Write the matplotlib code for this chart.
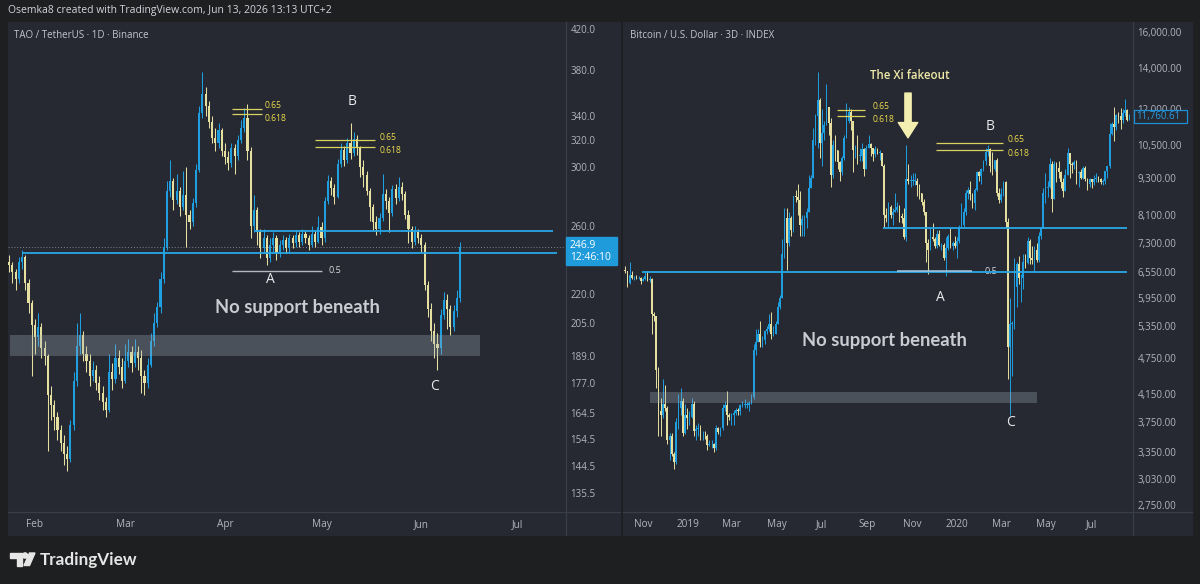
import matplotlib
matplotlib.use('Agg')
import matplotlib.pyplot as plt
import matplotlib.dates as mdates
from matplotlib.patches import Rectangle, Polygon, Circle
from matplotlib.ticker import FixedLocator, NullLocator
import numpy as np
import pandas as pd

plt.rcParams['font.family'] = ['Open Sans', 'DejaVu Sans']

# ---------------- data : TAO / TetherUS 1D ----------------
tao_start = '2026-01-24'
tao_first_open = 238
tao_close = [236, 232, 228, 238, 241, 226, 215, 204, 198, 203,
             193, 189, 172, 168, 163, 158, 153, 149, 147, 160,
             178, 194, 199, 190, 187, 180, 183, 177, 173, 169,
             166, 182, 179, 188, 184, 178, 187, 191, 186, 191,
             188, 180, 177, 185, 196, 205, 213, 228, 247, 283,
             290, 277, 283, 272, 280, 267, 262, 275, 298, 342,
             358, 348, 335, 322, 318, 328, 312, 307, 303, 314,
             308, 320, 330, 338, 312, 260, 270, 256, 246, 252,
             240, 248, 252, 243, 248, 251, 246, 252, 249, 254,
             250, 255, 252, 248, 255, 250, 259, 252, 276, 290,
             285, 279, 302, 313, 305, 318, 310, 321, 314, 300,
             294, 283, 272, 262, 258, 265, 281, 276, 268, 284,
             278, 286, 281, 267, 258, 250, 256, 252, 248, 225,
             212, 201, 195, 193, 209, 217, 212, 203, 211, 218,
             246.9]
tao_high = [242, 238, 234, 241, 245, 242, 228, 217, 207, 210,
            205, 196, 190, 176, 170, 165, 160, 156, 152, 162,
            182, 205, 210, 201, 194, 190, 187, 185, 180, 176,
            171, 190, 186, 195, 192, 188, 195, 197, 194, 197,
            194, 192, 183, 188, 200, 210, 216, 232, 252, 290,
            305, 292, 295, 286, 297, 300, 270, 278, 302, 348,
            378, 365, 352, 340, 330, 334, 330, 318, 312, 318,
            317, 324, 336, 346, 350, 315, 280, 272, 258, 258,
            254, 252, 256, 254, 251, 254, 253, 255, 254, 257,
            256, 258, 257, 254, 260, 257, 266, 262, 279, 294,
            293, 288, 306, 318, 316, 322, 334, 327, 324, 316,
            305, 297, 285, 274, 266, 268, 295, 284, 279, 287,
            288, 293, 289, 283, 270, 260, 260, 258, 255, 250,
            227, 215, 205, 200, 212, 221, 220, 214, 214, 222,
            250]
tao_low = [232, 226, 222, 226, 234, 222, 210, 180, 190, 194,
           188, 185, 150, 162, 158, 154, 150, 145, 143, 146,
           158, 176, 190, 187, 182, 176, 178, 174, 170, 166,
           163, 165, 174, 177, 181, 175, 177, 184, 182, 184,
           183, 173, 172, 175, 184, 194, 203, 210, 226, 245,
           279, 270, 274, 266, 270, 247, 258, 260, 272, 296,
           338, 340, 330, 318, 312, 314, 308, 302, 298, 300,
           295, 305, 318, 327, 305, 252, 256, 248, 240, 243,
           236, 238, 244, 239, 241, 245, 243, 244, 246, 247,
           247, 248, 249, 245, 247, 247, 249, 248, 250, 274,
           280, 274, 278, 300, 301, 303, 306, 308, 309, 293,
           286, 280, 263, 257, 254, 255, 263, 271, 256, 266,
           274, 276, 277, 264, 249, 246, 248, 249, 244, 222,
           208, 196, 188, 183, 190, 207, 202, 199, 201, 208,
           216]
tao_yticks = [420, 380, 340, 320, 300, 260, 220, 205, 189, 177, 164.5, 154.5, 144.5, 135.5]
tao_month_ticks = ['2026-02-01', '2026-03-01', '2026-04-01', '2026-05-01', '2026-06-01', '2026-07-01']
tao_month_labels = ['Feb', 'Mar', 'Apr', 'May', 'Jun', 'Jul']
tao_support = 243.0
tao_resistance = 256.5
tao_half = 233.0
tao_fib_a = [345.5, 341.0]
tao_fib_b = [320.0, 315.0]
tao_zone = [189.0, 199.0]

# ---------------- data : Bitcoin / U.S. Dollar 3D ----------------
btc_start = '2018-10-08'
btc_first_open = 6600
btc_close = [6560, 6280, 6480, 6400, 6410, 6400, 6410, 6330, 6390, 6450,
             6350, 6370, 5600, 5550, 4550, 3900, 3850, 4000, 3950, 3500,
             3550, 3330, 3230, 3750, 3950, 4050, 3600, 3840, 3800, 3820,
             4000, 3620, 3650, 3650, 3550, 3560, 3550, 3440, 3450, 3450,
             3400, 3660, 3610, 3660, 3950, 3990, 3850, 3820, 3850, 3870,
             3920, 3900, 3990, 3990, 3990, 3990, 4020, 4110, 4900, 5050,
             5200, 5050, 5080, 5250, 5300, 5400, 5200, 5200, 5400, 5750,
             5950, 7000, 8000, 7300, 8000, 7650, 8700, 8650, 8550, 7800,
             7980, 8000, 8200, 8950, 9300, 10700, 11700, 12400, 10600, 11000,
             11300, 12100, 11400, 9400, 10500, 10300, 9850, 9500, 10000, 10800,
             11500, 11900, 11500, 10300, 10300, 10100, 10100, 10350, 9600, 10400,
             10550, 10400, 10150, 10350, 10200, 10200, 9700, 8100, 8000, 8350,
             8100, 8200, 8250, 8350, 8050, 8000, 7450, 9250, 9200, 9200,
             9200, 9200, 9050, 8800, 8500, 8200, 7300, 7100, 7450, 7400,
             7200, 7550, 7250, 7250, 6900, 7150, 7500, 7200, 7300, 7200,
             7350, 7750, 7800, 8200, 8800, 8900, 8750, 8450, 8900, 9500,
             9350, 9600, 9900, 10250, 10350, 9700, 9600, 9950, 8800, 8550,
             8750, 9150, 7900, 4950, 5400, 5400, 6200, 6750, 6400, 6400,
             6800, 6780, 7350, 6900, 6850, 7100, 6850, 7500, 7700, 8800,
             8950, 9000, 9800, 8600, 9800, 9650, 9500, 9150, 8850, 9400,
             10200, 9800, 9750, 9850, 9450, 9500, 9300, 9650, 9250, 9100,
             9250, 9150, 9250, 9300, 9250, 9150, 9200, 9550, 9700, 10950,
             11350, 11250, 11750, 11700, 11550, 11850, 11950, 11550, 11760.61]
btc_high = [6700, 6570, 6800, 6560, 6460, 6470, 6450, 6420, 6430, 6540,
            6560, 6440, 6400, 5650, 5550, 4600, 4100, 4400, 4300, 3980,
            3600, 3600, 3350, 3800, 4150, 4250, 4100, 4000, 3950, 3900,
            4100, 4050, 3700, 3730, 3700, 3620, 3620, 3580, 3500, 3500,
            3460, 3700, 3680, 3680, 4000, 4050, 4200, 3870, 3880, 3910,
            3950, 3940, 4000, 4050, 4080, 4030, 4050, 4150, 5000, 5300,
            5300, 5450, 5150, 5280, 5350, 5600, 5650, 5350, 5450, 5850,
            6000, 7400, 8300, 8300, 8200, 8050, 8700, 8900, 9100, 8850,
            8100, 8100, 8300, 9400, 9400, 11200, 11800, 13800, 12500, 12000,
            11500, 13200, 12100, 11600, 10700, 10900, 10300, 9900, 10100, 10900,
            12300, 12100, 12000, 11500, 10500, 10900, 10400, 10600, 10400, 10500,
            10900, 10600, 10400, 10450, 10400, 10300, 10200, 9800, 8300, 8500,
            8400, 8300, 8800, 8500, 8400, 8150, 8300, 10500, 9800, 9400,
            9450, 9450, 9300, 9100, 8800, 8600, 8200, 7400, 7700, 7850,
            7450, 7650, 7650, 7300, 7300, 7450, 7550, 7700, 7350, 7500,
            7450, 7800, 8450, 8300, 8900, 9000, 9200, 8800, 8950, 9550,
            9550, 9650, 9950, 10400, 10500, 10400, 10250, 9950, 10000, 8950,
            8950, 9200, 9200, 8000, 5950, 5450, 6900, 6800, 6950, 6500,
            7000, 7000, 7450, 7400, 7200, 7200, 7300, 7600, 7750, 8950,
            9450, 9200, 10000, 9900, 9900, 9850, 9900, 9550, 9300, 9600,
            10400, 10200, 9850, 9950, 9950, 9550, 9600, 9700, 9700, 9300,
            9300, 9250, 9400, 9450, 9350, 9300, 9250, 9550, 9700, 11400,
            11450, 12100, 11800, 11900, 12050, 12000, 12450, 12000, 11800]
btc_low = [6520, 6200, 6250, 6380, 6360, 6370, 6380, 6260, 6320, 6350,
           6330, 6300, 5200, 5450, 4250, 3550, 3550, 3800, 3900, 3450,
           3250, 3300, 3150, 3200, 3650, 3850, 3550, 3580, 3650, 3700,
           3800, 3550, 3500, 3550, 3500, 3500, 3520, 3380, 3420, 3400,
           3350, 3380, 3580, 3560, 3640, 3900, 3700, 3780, 3700, 3700,
           3850, 3850, 3850, 3960, 3950, 3950, 3900, 4000, 4080, 4800,
           5050, 4950, 4950, 5000, 5200, 5250, 5100, 5150, 5200, 5400,
           5700, 5950, 6900, 6600, 7200, 7500, 7600, 8500, 8100, 7500,
           7500, 7500, 7700, 8200, 8950, 9300, 10500, 10400, 10000, 9700,
           10700, 11300, 10900, 9000, 9300, 9900, 9600, 9200, 9400, 9950,
           10800, 11400, 11100, 9500, 10000, 9800, 9900, 9900, 9350, 9600,
           10400, 10100, 9900, 10050, 10150, 9950, 9700, 7700, 7900, 7700,
           8000, 7800, 8200, 8200, 7900, 7850, 7400, 7350, 9100, 9000,
           9050, 9050, 8700, 8600, 8400, 8100, 6800, 6500, 7100, 7350,
           7150, 7150, 7200, 7100, 6850, 6450, 7100, 7150, 7100, 7150,
           6900, 7300, 7700, 7700, 8100, 8600, 8550, 8300, 8250, 8850,
           9200, 9100, 9550, 9750, 10100, 9500, 9400, 9550, 8700, 8450,
           8500, 8700, 7700, 4400, 3850, 4450, 5300, 5750, 6250, 5850,
           6150, 6650, 6750, 6750, 6750, 6550, 6800, 6800, 7400, 7700,
           8450, 8650, 8950, 8200, 8600, 9150, 9300, 8950, 8650, 8850,
           9400, 9300, 9450, 9600, 9100, 9000, 9250, 9250, 9200, 8900,
           9000, 8950, 9050, 9150, 9150, 9100, 9050, 9100, 9300, 9650,
           10900, 10650, 11100, 11400, 11150, 11400, 11700, 11500, 11550]
btc_yticks = [16000, 14000, 12000, 10500, 9300, 8100, 7300, 6550, 5950, 5350,
              4750, 4150, 3750, 3350, 3030, 2750]
btc_month_ticks = ['2018-11-01', '2019-01-01', '2019-03-01', '2019-05-01', '2019-07-01',
                   '2019-09-01', '2019-11-01', '2020-01-01', '2020-03-01', '2020-05-01',
                   '2020-07-01']
btc_month_labels = ['Nov', '2019', 'Mar', 'May', 'Jul', 'Sep', 'Nov', '2020', 'Mar', 'May', 'Jul']
btc_support = 6550.0
btc_resistance = 7700.0
btc_half = 6560.0
btc_fib_a = [11980.0, 11700.0]
btc_fib_b = [10584.0, 10312.0]
btc_zone = [4020.0, 4190.0]

# ---------------- style ----------------
W, H = 1200, 584
FIG_BG = '#1e1f21'
PANEL_BG = '#262932'
SEP = '#3a3e48'
TEXT = '#b2b5be'
UP = '#1f9ee0'
DOWN = '#e6e0a0'
LBLUE = '#29a8e6'
FIB = '#d9d160'
FIB_TXT = '#eedb4c'
ZONE = '#a0b0b8'

fig = plt.figure(figsize=(W / 100, H / 100), dpi=100, facecolor=FIG_BG)


def frect(x0, y0, x1, y1):
    return [x0 / W, 1 - y1 / H, (x1 - x0) / W, (y1 - y0) / H]


def dnum(s):
    return mdates.date2num(pd.Timestamp(s))


# background / chrome layer
bg = fig.add_axes([0, 0, 1, 1], zorder=0)
bg.set_xlim(0, W)
bg.set_ylim(H, 0)
bg.axis('off')
bg.add_patch(Rectangle((8, 22), 612, 513, color=PANEL_BG))
bg.add_patch(Rectangle((623, 22), 569, 513, color=PANEL_BG))
bg.plot([565.5, 565.5], [22, 535], color=SEP, lw=0.9)
bg.plot([8, 620], [511.5, 511.5], color=SEP, lw=0.9)
bg.plot([1132.5, 1132.5], [22, 535], color=SEP, lw=0.9)
bg.plot([623, 1192], [511.5, 511.5], color=SEP, lw=0.9)
bg.text(8, 10, 'Osemka8 created with TradingView.com, Jun 13, 2026 13:13 UTC+2',
        color='#d1d4dc', fontsize=7.5, va='center', ha='left')
bg.text(14, 35, 'TAO / TetherUS · 1D · Binance', color='#c3c6cd', fontsize=7.0,
        va='center', ha='left')
bg.text(630, 35, 'Bitcoin / U.S. Dollar · 3D · INDEX', color='#c3c6cd', fontsize=7.0,
        va='center', ha='left')
# TradingView logo
LOGO = '#e6e6e6'
bg.add_patch(Polygon([(10, 553), (21.5, 553), (21.5, 565.5), (16.5, 565.5), (16.5, 558), (10, 558)],
                     closed=True, color=LOGO))
bg.add_patch(Circle((25, 555.5), 2.6, color=LOGO))
bg.add_patch(Polygon([(29.5, 553), (35, 553), (29.5, 565.5), (24, 565.5)], closed=True, color=LOGO))
bg.text(40, 559.5, 'TradingView', color=LOGO, fontsize=12.3, fontweight='bold',
        family=['Lato', 'DejaVu Sans'], va='center', ha='left')


def draw_candles(ax, dates, first_open, closes, highs, lows, width, lw):
    x = mdates.date2num(dates)
    c = np.asarray(closes, dtype=float)
    o = np.concatenate([[first_open], c[:-1]])
    colors = np.where(c >= o, UP, DOWN)
    ax.vlines(x, lows, highs, colors=colors, lw=lw, zorder=3)
    bottom = np.minimum(o, c)
    top = np.maximum(o, c)
    height = np.maximum(top - bottom, bottom * 0.002)
    ax.bar(x, height, bottom=bottom, width=width, color=colors, linewidth=0, zorder=4)


def style_axes(ax, yticks, yfmt, xticks, xlabels):
    ax.set_facecolor('none')
    for s in ax.spines.values():
        s.set_visible(False)
    ax.yaxis.set_major_locator(FixedLocator(yticks))
    ax.yaxis.set_minor_locator(NullLocator())
    ax.set_yticklabels([yfmt(v) for v in yticks])
    ax.yaxis.tick_right()
    ax.tick_params(axis='y', which='both', length=0, pad=3.8, labelsize=7, labelcolor=TEXT)
    ax.set_xticks([dnum(t) for t in xticks])
    ax.set_xticklabels(xlabels)
    ax.tick_params(axis='x', length=0, pad=5.5, labelsize=7.2, labelcolor=TEXT)
    ax.grid(False)


def fib_labels(ax, x, levels):
    # two fib labels drawn just above / below their lines
    ax.annotate('0.65', (x, levels[0]), xytext=(0, 2.2), textcoords='offset points',
                color=FIB_TXT, fontsize=6.2, va='center', ha='left')
    ax.annotate('0.618', (x, levels[1]), xytext=(0, -2.6), textcoords='offset points',
                color=FIB_TXT, fontsize=6.2, va='center', ha='left')


# ---------------- left chart : TAO ----------------
ax1 = fig.add_axes(frect(8, 22, 565, 511), zorder=2)
ax1.set_yscale('log')
ax1.set_ylim(129.6, 427.2)
t0 = dnum(tao_start)
ax1.set_xlim(t0 - 0.37, t0 + 172.6)
tao_dates = pd.date_range(tao_start, periods=len(tao_close), freq='D')
draw_candles(ax1, tao_dates, tao_first_open, tao_close, tao_high, tao_low, 0.66, 0.75)
style_axes(ax1, tao_yticks, lambda v: f'{v:.1f}', tao_month_ticks, tao_month_labels)

ax1.fill_between([t0 + 0.25, t0 + 146.2], tao_zone[0], tao_zone[1], color=ZONE, alpha=0.3,
                 linewidth=0, zorder=5)
ax1.axhline(tao_close[-1], color='#7d828c', lw=0.7, ls=(0, (1, 2)), zorder=2)
ax1.hlines(tao_support, t0 + 4.0, t0 + 170.1, color=LBLUE, lw=1.3, zorder=6)
ax1.hlines(tao_resistance, t0 + 76.3, t0 + 168.9, color=LBLUE, lw=1.3, zorder=6)
ax1.hlines(tao_half, t0 + 69.2, t0 + 97.1, color='#b4b7bd', lw=1.0, zorder=6)
ax1.text(t0 + 99.3, tao_half, '0.5', color='#d8dade', fontsize=6.5, va='center', ha='left')
for lv in tao_fib_a:
    ax1.hlines(lv, t0 + 69.2, t0 + 78.5, color=FIB, lw=0.9, zorder=6)
for lv in tao_fib_b:
    ax1.hlines(lv, t0 + 95.0, t0 + 113.6, color=FIB, lw=0.9, zorder=6)
fib_labels(ax1, t0 + 79.4, tao_fib_a)
fib_labels(ax1, t0 + 115.0, tao_fib_b)
ax1.text(t0 + 81.0, 227.7, 'A', color='#e8e9ec', fontsize=10, ha='center', va='center')
ax1.text(t0 + 106.5, 352.0, 'B', color='#e8e9ec', fontsize=10, ha='center', va='center')
ax1.text(t0 + 132.2, 175.4, 'C', color='#e8e9ec', fontsize=10, ha='center', va='center')
ax1.text(t0 + 89.4, 213.0, 'No support beneath', color='#c9ccd1', fontsize=13.2,
         fontweight='bold', family=['Lato', 'DejaVu Sans'], ha='center', va='center', zorder=7)

# ---------------- right chart : BTC ----------------
ax2 = fig.add_axes(frect(623, 22, 1132, 511), zorder=2)
ax2.set_yscale('log')
ax2.set_ylim(2689, 16607)
b0 = dnum('2018-11-01')
ax2.set_xlim(b0 - 27.1, b0 + 663.5)
btc_dates = pd.date_range(btc_start, periods=len(btc_close), freq='3D')
draw_candles(ax2, btc_dates, btc_first_open, btc_close, btc_high, btc_low, 2.2, 0.7)
style_axes(ax2, btc_yticks, lambda v: f'{v:,.2f}', btc_month_ticks, btc_month_labels)

ax2.fill_between([b0 + 9.5, b0 + 534.6], btc_zone[0], btc_zone[1], color=ZONE, alpha=0.3,
                 linewidth=0, zorder=5)
ax2.hlines(btc_support, b0 - 1.4, b0 + 656.7, color=LBLUE, lw=1.3, zorder=6)
ax2.hlines(btc_resistance, b0 + 325.6, b0 + 656.7, color=LBLUE, lw=1.3, zorder=6)
ax2.hlines(btc_half, b0 + 344.6, b0 + 446.4, color='#a9c9e0', lw=1.1, zorder=7)
ax2.text(b0 + 464.0, btc_half, '0.5', color='#d8dade', fontsize=6.5, va='center', ha='left')
for lv in btc_fib_a:
    ax2.hlines(lv, b0 + 263.0, b0 + 301.0, color=FIB, lw=0.9, zorder=6)
for lv in btc_fib_b:
    ax2.hlines(lv, b0 + 397.6, b0 + 488.5, color=FIB, lw=0.9, zorder=6)
fib_labels(ax2, b0 + 312.0, btc_fib_a)
fib_labels(ax2, b0 + 495.0, btc_fib_b)
ax2.text(b0 + 403.0, 5965, 'A', color='#e8e9ec', fontsize=10, ha='center', va='center')
ax2.text(b0 + 470.8, 11275, 'B', color='#e8e9ec', fontsize=10, ha='center', va='center')
ax2.text(b0 + 498.0, 3745, 'C', color='#e8e9ec', fontsize=10, ha='center', va='center')
ax2.text(b0 + 327.0, 5064, 'No support beneath', color='#c9ccd1', fontsize=13.2,
         fontweight='bold', family=['Lato', 'DejaVu Sans'], ha='center', va='center', zorder=7)
ax2.text(b0 + 362.0, 13627, 'The Xi fakeout', color='#f0eaa8', fontsize=8.3,
         fontweight='semibold', ha='center', va='center')
ax2.annotate('', xy=(b0 + 359.6, 10790), xytext=(b0 + 359.6, 12746),
             arrowprops=dict(arrowstyle='simple,head_length=1.1,head_width=1.4,tail_width=0.45',
                             color='#f3efb0', shrinkA=0, shrinkB=0), zorder=8)

# ---------------- price labels (top layer) ----------------
top = fig.add_axes([0, 0, 1, 1], zorder=5)
top.set_xlim(0, W)
top.set_ylim(H, 0)
top.axis('off')
top.add_patch(Rectangle((566, 237), 51, 28, color='#1f9bdc'))
top.text(570, 245.5, f'{tao_close[-1]:.1f}', color='white', fontsize=7.4, va='center', ha='left')
top.text(570, 257.5, '12:46:10', color='white', fontsize=7.4, va='center', ha='left')
top.add_patch(Rectangle((1133.5, 109.5), 53, 13, facecolor=PANEL_BG, edgecolor='#1e8fd5', lw=0.9))
top.text(1136.5, 116, f'{btc_close[-1]:,.2f}', color='#2a9de0', fontsize=7, va='center', ha='left')

fig.savefig('out.png', dpi=100, facecolor=FIG_BG)
